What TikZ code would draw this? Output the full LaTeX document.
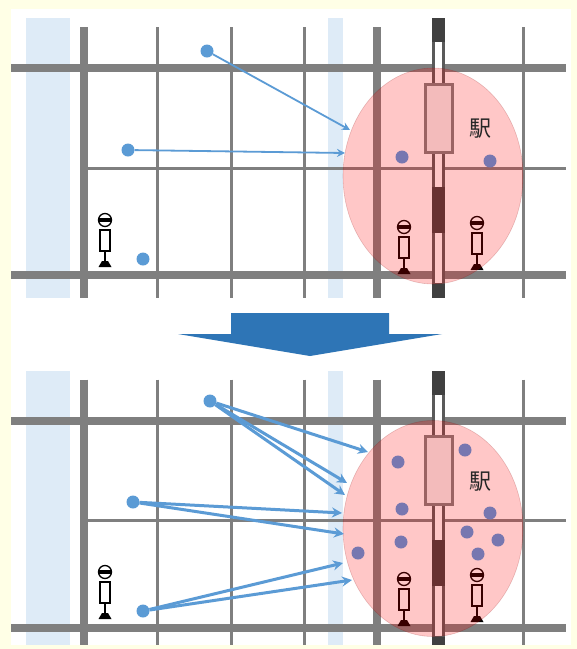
\documentclass[tikz,border=0pt]{standalone}
\usepackage{fontspec}
\newfontfamily\cjkfont{Noto Sans CJK JP}
\usetikzlibrary{arrows.meta}
\definecolor{bgpale}{HTML}{FFFFE6}
\definecolor{riverblue}{HTML}{DEEBF7}
\definecolor{roadgrey}{HTML}{7F7F7F}
\definecolor{raildark}{HTML}{404040}
\definecolor{railside}{HTML}{5A5A5A}
\definecolor{flowblue}{HTML}{5B9BD5}
\definecolor{blockblue}{HTML}{2E75B6}
\definecolor{crowd}{HTML}{7777B0}
\tikzset{
  x=1pt,y=-1pt,
  river/.style={fill=riverblue,draw=none},
  thickroad/.style={draw=roadgrey,line width=8pt},
  thinroad/.style={draw=roadgrey,line width=3pt},
  railbed/.style={fill=raildark,draw=none},
  railsidefill/.style={fill=railside,draw=none},
  railgap/.style={fill=white,draw=none},
  stationbox/.style={fill=white!94!black,draw=roadgrey,line width=3pt},
  catchment/.style={fill=red,fill opacity=.22,draw=red!50!black,draw opacity=.2,line width=.6pt},
  origin/.style={circle,fill=flowblue,draw=none,minimum size=13pt,inner sep=0pt},
  visitor/.style={circle,fill=crowd,draw=none,minimum size=13pt,inner sep=0pt},
  flow/.style={draw=flowblue,line width=1.8pt,-{Stealth[length=8pt,width=8pt]}},
  bigflow/.style={draw=flowblue,line width=3pt,-{Stealth[length=10pt,width=10pt]}},
  eki/.style={inner sep=0pt,text=black!85,font=\cjkfont\fontsize{22}{22}\selectfont},
}
% #1 vertical offset, #2 lower end of the panel
\newcommand{\mapbase}[2]{%
  \begin{scope}[yshift=-#1pt]
    \fill[river] (26,18) rectangle (70,#2);
    \fill[river] (328,18) rectangle (343,#2);
    \foreach \vx in {157,231,304,523}{\draw[thinroad] (\vx,27) -- (\vx,#2);}
    \foreach \vx in {84,377}{\draw[thickroad] (\vx,27) -- (\vx,#2);}
    \draw[thinroad] (84,168) -- (566,168);
    \draw[thickroad] (11,68) -- (566,68);
    \draw[thickroad] (11,275) -- (566,275);
    \fill[railbed] (431.5,18) rectangle (444.5,#2);
    \fill[railsidefill] (431.5,42) rectangle (444.5,84);
    \fill[railsidefill] (431.5,152) rectangle (444.5,187);
    \fill[railsidefill] (431.5,233) rectangle (444.5,284);
    \fill[railgap] (434.5,42) rectangle (441.5,84);
    \fill[railgap] (434.5,152) rectangle (441.5,187);
    \fill[railgap] (434.5,233) rectangle (441.5,283);
    \draw[stationbox] (425,84) rectangle (452,152);
  \end{scope}}
\newcommand{\mapcover}[1]{%
  \begin{scope}[yshift=-#1pt]
    \path[catchment] (433,176) ellipse [x radius=90,y radius=108];
  \end{scope}}
% #1 x, #2 head centre y
\newcommand{\walker}[2]{%
  \begin{scope}[shift={(#1,#2)}]
    \draw[black,line width=1.3pt,fill=white] (0,0) circle [radius=6.5];
    \fill[black] (-6.5,-1.8) rectangle (6.5,1.8);
    \draw[black,line width=1.3pt,fill=white] (-5,10) rectangle (5,31);
    \draw[black,line width=1.3pt] (0,31) -- (0,42);
    \fill[black] (-6.5,47) -- (-3,41) -- (3,41) -- (6.5,47) -- cycle;
  \end{scope}}
\begin{document}
\begin{tikzpicture}
  \useasboundingbox (0,0) rectangle (577,649);
  \fill[bgpale] (0,0) rectangle (577,649);
  \fill[white] (11,9) rectangle (571,645);
  % top panel
  \mapbase{0}{298}
  \walker{105}{220}
  \walker{404}{227}
  \walker{477}{223}
  \mapcover{0}
  % bottom panel
  \mapbase{352.5}{292.5}
  \walker{105}{572}
  \walker{404}{579}
  \walker{477}{575}
  \mapcover{352.5}
  % block arrow
  \fill[blockblue] (231,313) -- (389,313) -- (389,334) -- (442,334) -- (310,356) -- (178,334) -- (231,334) -- cycle;
  % labels
  \node[eki] (ekitop) at (480,129) {駅};
  \node[eki] (ekibottom) at (480,482) {駅};
  % visitors, top
  \node[visitor] (vta) at (402,157) {};
  \node[visitor] (vtb) at (490,161) {};
  % visitors, bottom
  \node[visitor] (vba) at (465,450) {};
  \node[visitor] (vbb) at (398,462) {};
  \node[visitor] (vbc) at (402,509) {};
  \node[visitor] (vbd) at (490,513) {};
  \node[visitor] (vbe) at (467,532) {};
  \node[visitor] (vbf) at (498,540) {};
  \node[visitor] (vbg) at (401,542) {};
  \node[visitor] (vbh) at (358,553) {};
  \node[visitor] (vbi) at (478,554) {};
  % origins, top
  \node[origin] (ota) at (207,51) {};
  \node[origin] (otb) at (128,150) {};
  \node[origin] (otc) at (143,259) {};
  \coordinate (tta) at (350,130);
  \coordinate (ttb) at (345,153);
  \draw[flow] (ota) -- (tta);
  \draw[flow] (otb) -- (ttb);
  % origins, bottom
  \node[origin] (oba) at (210,401) {};
  \node[origin] (obb) at (133,502) {};
  \node[origin] (obc) at (143,611) {};
  \coordinate (tba) at (368,452);
  \coordinate (tbb) at (347,483);
  \coordinate (tbc) at (345,495);
  \coordinate (tbd) at (342,513);
  \coordinate (tbe) at (344,534);
  \coordinate (tbf) at (343,563);
  \coordinate (tbg) at (352,580);
  \draw[bigflow] (oba) -- (tba);
  \draw[bigflow] (oba) -- (tbb);
  \draw[bigflow] (oba) -- (tbc);
  \draw[bigflow] (obb) -- (tbd);
  \draw[bigflow] (obb) -- (tbe);
  \draw[bigflow] (obc) -- (tbf);
  \draw[bigflow] (obc) -- (tbg);
\end{tikzpicture}
\end{document}
